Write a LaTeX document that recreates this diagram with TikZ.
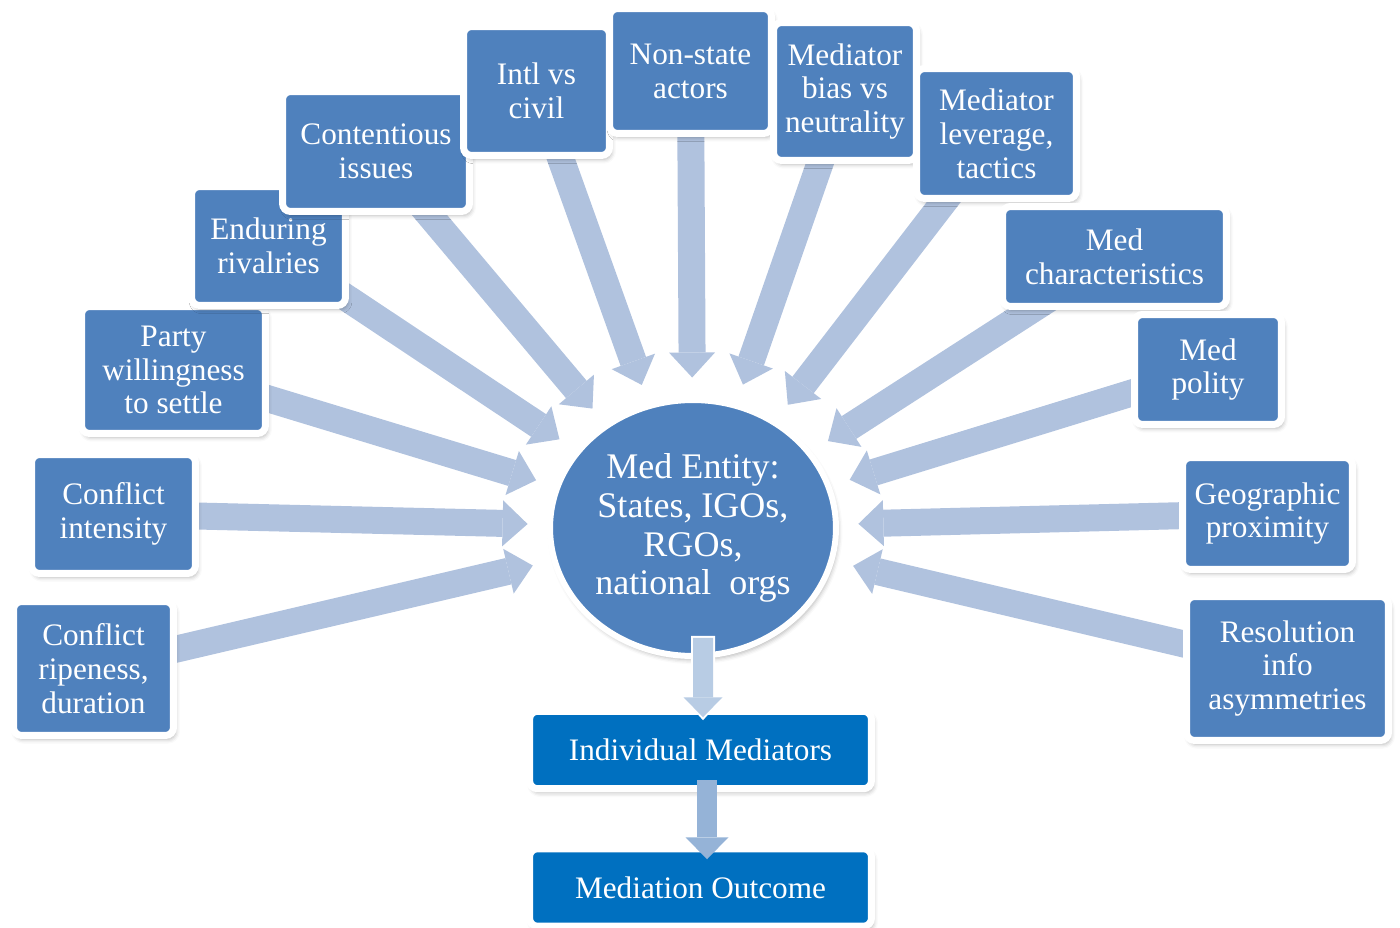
\documentclass[tikz,border=0pt]{standalone}
\usepackage{fontspec}
\setmainfont{Liberation Serif}
\usetikzlibrary{arrows.meta,shapes.geometric,shadows.blur,backgrounds,calc}
\definecolor{boxblue}{HTML}{4F81BD}
\definecolor{outblue}{HTML}{0070C0}
\definecolor{feedblue}{HTML}{B0C2DE}
\definecolor{pipeblue}{HTML}{B8CCE4}
\definecolor{pipedark}{HTML}{95B3D7}
\begin{document}
\begin{tikzpicture}[x=0.02cm,y=-0.02cm,
  fact/.style={rectangle,rounded corners=0.16cm,fill=boxblue,draw=white,line width=0.14cm,
    text=white,align=center,inner sep=0pt,outer sep=0pt,
    font=\fontsize{17.8}{19.3}\selectfont,
    blur shadow={shadow xshift=1.2pt,shadow yshift=-2.2pt,shadow blur radius=2.5pt,shadow opacity=30}},
  stage/.style={fact,fill=outblue,minimum width=6.84cm,minimum height=1.55cm},
  hubnode/.style={ellipse,fill=boxblue,draw=white,line width=0.12cm,text=white,align=center,
    inner sep=0pt,outer sep=0pt,minimum width=5.72cm,minimum height=5.12cm,
    font=\fontsize{20.5}{22.1}\selectfont,
    blur shadow={shadow xshift=1.2pt,shadow yshift=-2.2pt,shadow blur radius=2.5pt,shadow opacity=30}},
  feed/.style={draw=feedblue,line width=0.54cm,-{Triangle[length=0.5cm,width=0.92cm,line width=0pt]},shorten >=0.45cm}]
\useasboundingbox (0,0) rectangle (1400,928);

% factors round the hub
\node[fact,minimum width=3.20cm,minimum height=2.68cm] (ripe) at (93.5,668.5) {Conflict\\ripeness,\\duration};
\node[fact,minimum width=3.28cm,minimum height=2.38cm] (intens) at (113.5,514) {Conflict\\intensity};
\node[fact,minimum width=3.68cm,minimum height=2.54cm] (party) at (173.5,370) {Party\\willingness\\to settle};
\node[fact,minimum width=3.08cm,minimum height=2.38cm] (rival) at (268.5,246) {Enduring\\rivalries};
\node[fact,minimum width=3.74cm,minimum height=2.40cm] (issues) at (376,151.5) {Contentious\\issues};
\node[fact,minimum width=2.92cm,minimum height=2.58cm] (intl) at (536.5,91) {Intl vs\\civil};
\node[fact,minimum width=3.24cm,minimum height=2.50cm] (nonstate) at (690.5,71) {Non-state\\actors};
\node[fact,minimum width=2.86cm,minimum height=2.76cm] (bias) at (845,91.5) {Mediator\\bias vs\\neutrality};
\node[fact,minimum width=3.20cm,minimum height=2.60cm] (lever) at (996.5,133.5) {Mediator\\leverage,\\tactics};
\node[fact,minimum width=4.48cm,minimum height=2.00cm] (medchar) at (1114.5,256.5) {Med\\characteristics};
\node[fact,minimum width=2.94cm,minimum height=2.20cm] (polity) at (1208,369.5) {Med\\polity};
\node[fact,minimum width=3.40cm,minimum height=2.24cm] (geo) at (1267.5,513.5) {Geographic\\proximity};
\node[fact,minimum width=4.04cm,minimum height=2.88cm] (resol) at (1287.5,668.5) {Resolution\\info\\asymmetries};

% hub and the chain below it
\node[hubnode] (hub) at (693,528) {Med Entity:\\States, IGOs,\\RGOs,\\national~ orgs};
\node[stage] (indiv) at (700.5,750) {Individual Mediators};
\node[stage] (outcome) at (700.5,887.5) {Mediation Outcome};

\begin{scope}[on background layer]
\draw[feed] (ripe.center) -- (hub);
\draw[feed] (intens.center) -- (hub);
\draw[feed] (party.center) -- (hub);
\draw[feed] (rival.center) -- (hub);
\draw[feed] (issues.center) -- (hub);
\draw[feed] (intl.center) -- (hub);
\draw[feed] (nonstate.center) -- (hub);
\draw[feed] (bias.center) -- (hub);
\draw[feed] (lever.center) -- (hub);
\draw[feed] (medchar.center) -- (hub);
\draw[feed] (polity.center) -- (hub);
\draw[feed] (geo.center) -- (hub);
\draw[feed] (resol.center) -- (hub);
\end{scope}

\draw[white,line width=0.48cm,-{Triangle[length=0.50cm,width=0.90cm,line width=0pt]},shorten >=-0.06cm,shorten <=-0.04cm]
  ($(hub.south)+(10,-18)$) -- ($(indiv.north)+(2.5,6)$);
\draw[pipeblue,line width=0.40cm,-{Triangle[length=0.40cm,width=0.78cm,line width=0pt]}]
  ($(hub.south)+(10,-18)$) -- ($(indiv.north)+(2.5,6)$);
\draw[pipedark,line width=0.40cm,-{Triangle[length=0.44cm,width=0.86cm,line width=0pt]}]
  ($(indiv.south)+(6.5,-8.5)$) -- ($(outcome.north)+(6.5,10.5)$);
\end{tikzpicture}
\end{document}
